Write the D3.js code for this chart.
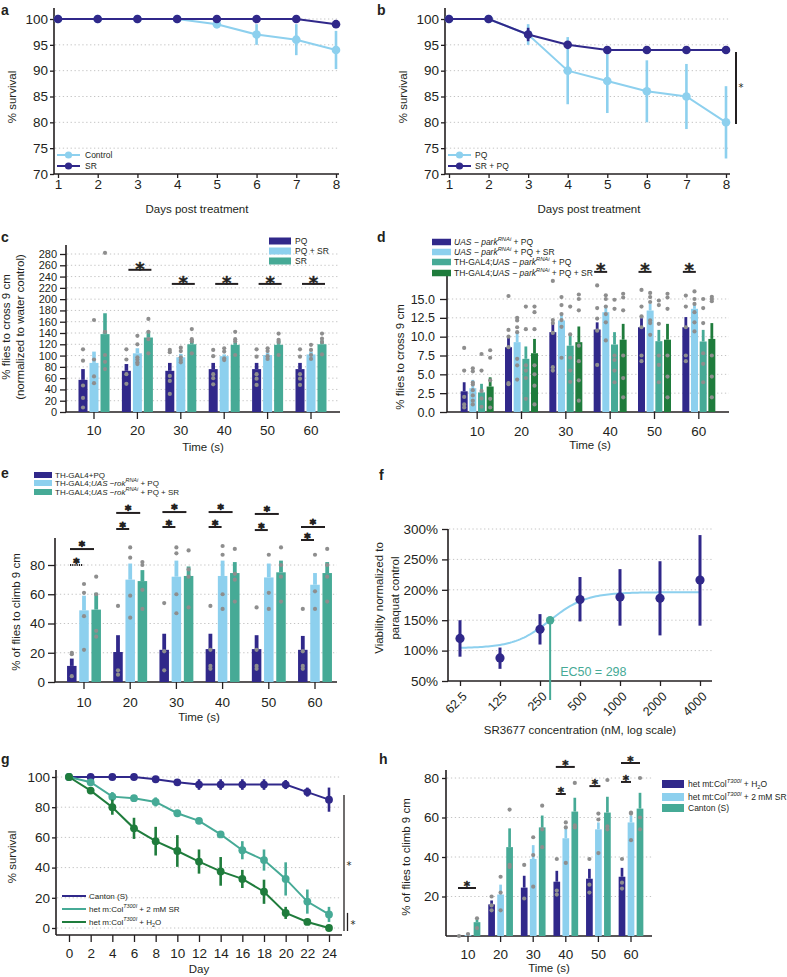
<!DOCTYPE html>
<html>
<head>
<meta charset="utf-8">
<title>SR3677 panels</title>
<script src="https://d3js.org/d3.v7.min.js"></script>
<style>
  body { margin: 0; background: #fff; }
</style>
</head>
<body>
<script>
const FONT = '"Liberation Sans", Arial, Helvetica, sans-serif'
const STAR_FONT = '"DejaVu Sans", sans-serif'
const INK = "#231f20", GRID = "#c4c4c4", DOT = "#8e8e8e"
const NAVY = "#30288a", SKY = "#8dd0ee", TEAL = "#46aa96", GREEN = "#1f7c3c"

// ---- panel a / b : survival, days 1-8
const daysAB = [1, 2, 3, 4, 5, 6, 7, 8]
const aControl = [100, 100, 100, 100, 99, 97, 96, 94]
const aControlErr = [0, 0, 0, 0, 0.8, 2, 3, 3.7]
const aSR = [100, 100, 100, 100, 100, 100, 100, 99]
const aSRErr = [0, 0, 0, 0, 0, 0, 0, 0.7]
const bPQ = [100, 100, 97, 90, 88, 86, 85, 80]
const bPQErr = [0, 0, 2, 6.5, 6.2, 6, 6.3, 7]
const bSRPQ = [100, 100, 97, 95, 94, 94, 94, 94]
const bSRPQErr = [0, 0, 1.3, 0.6, 0.6, 0.6, 0.6, 0.7]
const survTicks = [70, 75, 80, 85, 90, 95, 100]

// ---- bar panels share the time categories
const timeCats = [10, 20, 30, 40, 50, 60]

// panel c
const cLabels = ["PQ", "PQ + SR", "SR"]
const cPQ = [57, 73, 73, 76, 76, 76]
const cPQErr = [19, 12, 14, 11, 11, 11]
const cPQSR = [87, 104, 97, 99, 101, 102]
const cPQSRErr = [20, 9, 6, 3, 4, 5]
const cSR = [138, 132, 120, 119, 119, 120]
const cSRErr = [37, 11, 7, 4, 8, 7]
const cPQDots = [[111, 91, 47, 25, 8], [111, 93, 67, 50], [110, 106, 64, 55, 32], [110, 99, 67, 60, 49], [111, 98, 67, 59, 48], [111, 98, 67, 59, 48]]
const cPQSRDots = [[163, 93, 63, 51], [135, 120, 97, 93, 88, 85], [114, 108, 97, 92, 88], [113, 107, 95, 92], [113, 108, 99, 94], [119, 110, 101, 94]]
const cSRDots = [[282, 142, 101, 89, 76], [165, 142, 129, 104], [147, 129, 125, 104], [142, 129, 125, 101], [139, 128, 124, 101], [139, 130, 124, 102]]
const cTicks = d3.range(0, 281, 20)
const cSigCats = [20, 30, 40, 50, 60]
const cSigLevels = [252, 227, 227, 227, 227]

// panel d
const dLabels = [
  [["UAS − park", "i"], ["RNAi", "^i"], [" + PQ"]],
  [["UAS − park", "i"], ["RNAi", "^i"], [" + PQ + SR"]],
  [["TH-GAL4;"], ["UAS − park", "i"], ["RNAi", "^i"], [" + PQ"]],
  [["TH-GAL4;"], ["UAS − park", "i"], ["RNAi", "^i"], [" + PQ + SR"]]
]
const dUasPQ = [2.75, 8.6, 10.6, 10.95, 11.25, 11.25]
const dUasPQErr = [1.2, 1.55, 1.2, 0.95, 1.2, 1.35]
const dUasPQSR = [3.16, 9.27, 12.15, 13.25, 13.47, 13.7]
const dUasPQSRErr = [1.1, 1.35, 0.85, 0.75, 0.9, 0.65]
const dThPQ = [2.6, 7.06, 8.8, 8.96, 9.4, 9.36]
const dThPQErr = [1.14, 1.64, 1.5, 1.64, 1.5, 1.54]
const dThPQSR = [3.38, 7.8, 9.27, 9.6, 9.6, 9.7]
const dThPQSRErr = [1.22, 1.9, 2.08, 2.1, 2.1, 2.1]
const dUasPQDots = [[8.5, 5.5, 2.0, 1.0, 0.6], [15.4, 10.9, 10.0, 8.6, 3.85, 3.7], [17.4, 12.2, 11.8, 10.5, 5.95, 5.5], [16.8, 13.8, 12.4, 10.8, 6.25], [16.2, 14.0, 12.7, 11.25, 7.5, 6.75], [15.45, 14.0, 11.25, 7.5, 6.75]]
const dUasPQSRDots = [[5.8, 5.4, 3.9, 3.65, 2.9, 2.2, 1.5, 1.0], [12.5, 12.15, 11.25, 10.6, 7.06, 6.2, 4.3], [15.25, 14.2, 13.0, 12.2, 11.3, 7.2], [15.5, 15.0, 14.0, 13.0, 11.9, 9.5], [15.8, 15.25, 14.6, 12.15, 11.8, 10.25], [16.0, 15.0, 14.35, 13.25, 11.9, 10.7]]
const dThPQDots = [[7.7, 5.5, 2.8, 1.8, 0.7], [14.0, 11.0, 6.2, 5.5, 4.5, 1.75], [14.0, 10.3, 7.2, 5.5, 4.0], [14.9, 13.7, 7.5, 6.9, 5.5, 3.95], [14.8, 14.2, 11.7, 7.5, 6.25, 3.95], [15.0, 13.8, 11.8, 7.8, 6.4, 3.95]]
const dThPQSRDots = [[8.2, 7.2, 4.2, 1.75, 0.6], [14.0, 13.25, 11.0, 6.2, 5.0, 3.5, 1.0], [15.6, 15.0, 13.5, 8.8, 6.75, 4.2, 1.5], [15.7, 15.2, 13.5, 7.5, 4.5, 1.95], [15.7, 15.2, 13.7, 7.5, 4.7, 1.95], [15.3, 15.0, 14.7, 7.5, 4.7, 1.95]]
const dTicks = [0, 2.5, 5, 7.5, 10, 12.5, 15]
const dSigCats = [40, 50, 60]
const dSigLevel = 18.6

// panel e
const eLabels = [
  [["TH-GAL4+PQ"]],
  [["TH-GAL4;"], ["UAS −rok", "i"], ["RNAi", "^i"], [" + PQ"]],
  [["TH-GAL4;"], ["UAS −rok", "i"], ["RNAi", "^i"], [" + PQ + SR"]]
]
const eTh = [11, 20.5, 22, 22.5, 22.5, 22]
const eThErr = [5, 11.5, 11, 10.5, 9.5, 9.5]
const eRok = [49, 70, 72, 72.5, 71.5, 66.5]
const eRokErr = [10, 11, 11, 10.5, 9.5, 8]
const eRokSR = [49.5, 69, 72.5, 74.5, 75, 74.5]
const eRokSRErr = [11.5, 7.5, 6.5, 7.5, 8, 7.5]
const eThDots = [[20, 19, 4], [52, 8, 5], [54, 21, 8], [52, 22, 11, 9], [51, 22, 11, 9], [50, 21, 11, 9]]
const eRokDots = [[67, 61, 45, 22], [92, 85, 59, 44], [92, 88, 60, 47], [93, 87, 60, 50], [87, 61, 50], [87, 62, 50]]
const eRokSRDots = [[72, 60, 35, 31], [82, 80, 63, 50], [90, 77, 72, 51], [91, 74, 70, 55], [92, 80, 72, 55], [91, 80, 72, 55]]
const eTicks = [0, 20, 40, 60, 80]
const eSigCats = [10, 20, 30, 40, 50, 60]
const eSigTop = [90.9, 115.6, 116.2, 116.2, 114.9, 106]
const eSigLow = [80, 104.6, 106, 106, 103.9, 97.1]

// panel f
const fConc = [62.5, 125, 250, 500, 1000, 2000, 4000]
const fMean = [120, 88, 135, 184, 188, 186, 216]
const fLow = [90, 70, 110, 148, 141, 125, 141]
const fHigh = [150, 105, 160, 221, 234, 247, 290]
const fFit = [104, 196, 298, 3.2]   // bottom, top, EC50, hill slope of the fitted curve
const fTicks = [50, 100, 150, 200, 250, 300]

// panel g
const gDays = [0, 2, 4, 6, 8, 10, 12, 14, 16, 18, 20, 22, 24]
const gCanton = [100, 100, 100, 100, 98.5, 96.5, 95, 95, 95, 95, 95, 90, 85]
const gCantonErr = [0, 0, 0, 0, 1, 1.5, 3.5, 3.5, 3.5, 3.5, 3, 3, 8]
const gSR = [100, 96.5, 87, 86, 83.5, 76, 71, 62, 51.5, 45, 32.5, 17.5, 9]
const gSRErr = [0, 1, 3, 1.5, 3, 1, 2, 2, 6, 7, 11, 8, 5]
const gH2O = [100, 91, 80, 66, 57.5, 51, 44, 37.5, 32.5, 24, 10, 4, 0]
const gH2OErr = [0, 1.5, 5, 7, 9.5, 10.5, 8, 9.5, 6, 8, 4, 0.5, 0]
const gTicks = [0, 20, 40, 60, 80, 100]
const gLabels = [
  [["Canton (S)"]],
  [["het m:Col"], ["T300I", "^i"], [" + 2 mM SR"]],
  [["het m:Col"], ["T300I", "^i"], [" + H"], ["2", "_"], ["O"]]
]

// panel h
const hLabels = [
  [["het mt:Col"], ["T300I", "^i"], [" + H"], ["2", "_"], ["O"]],
  [["het mt:Col"], ["T300I", "^i"], [" + 2 mM SR"]],
  [["Canton (S)"]]
]
const hH2O = [0, 16, 24.5, 27.5, 29, 30]
const hH2OErr = [0, 2, 6, 5.5, 5, 4.5]
const hSR = [0.5, 21, 39, 49.5, 54, 57.5]
const hSRErr = [0, 5, 7, 5, 3.5, 3.5]
const hCanton = [7, 45, 55, 63, 62.5, 64.5]
const hCantonErr = [1.5, 9.5, 6, 7, 8, 8]
const hH2ODots = [[0], [20, 15.5, 13], [36, 19], [39, 23, 21], [39, 26, 22], [39, 27, 24]]
const hSRDots = [[1], [30, 22, 13], [50, 41, 25], [57.5, 55, 37], [62, 59, 42], [62.5, 62, 48.5]]
const hCantonDots = [[9, 4], [64, 36, 35], [66, 54, 45], [77.5, 56, 55], [79, 55.5, 54], [80, 60, 54]]
const hTicks = [20, 40, 60, 80]

// ------------------------------------------------------------------
const svg = d3.select("body").append("svg").attr("width", 787).attr("height", 977)
  .attr("font-family", FONT)

function finish(g, fs) {
  g.attr("font-family", FONT).attr("font-size", fs)
  g.selectAll(".tick line").attr("stroke", INK).attr("stroke-width", 1.3)
  g.selectAll(".tick text").attr("fill", INK)
}

function yAx(sc, vals, ax, top, bot, o = {}) {
  const g = svg.append("g").attr("transform", `translate(${ax},0)`)
    .call(d3.axisLeft(sc).tickValues(vals).tickFormat(o.fmt || (d => d))
      .tickSize(o.size || 4).tickPadding(o.pad || 2))
  g.select(".domain").remove()
  g.append("line").attr("y1", top).attr("y2", bot).attr("stroke", INK).attr("stroke-width", 1.6)
  finish(g, o.fs || 13.5)
  return g
}

function xAx(sc, vals, ay, left, right, o = {}) {
  const a = d3.axisBottom(sc).tickSize(o.size || 4).tickPadding(o.pad || 1)
    .tickFormat(o.fmt || (d => d))
  if (vals) a.tickValues(vals)
  const g = svg.append("g").attr("transform", `translate(0,${ay})`).call(a)
  g.select(".domain").remove()
  g.append("line").attr("x1", left).attr("x2", right).attr("stroke", INK).attr("stroke-width", 1.6)
  finish(g, o.fs || 13.5)
  return g
}

function grid(sc, vals, x0, x1) {
  svg.append("g").selectAll("line").data(vals).join("line")
    .attr("x1", x0).attr("x2", x1).attr("y1", d => sc(d)).attr("y2", d => sc(d))
    .attr("stroke", GRID).attr("stroke-width", 1).attr("stroke-dasharray", "1.3,2.6")
}

function label(x, y, txt, o = {}) {
  const t = svg.append("text").attr("x", x).attr("y", y).text(txt)
    .attr("font-size", o.fs || 11.5).attr("fill", o.fill || INK)
    .attr("text-anchor", o.anchor || "middle").attr("dominant-baseline", "central")
  if (o.rot) t.attr("transform", `rotate(-90,${x},${y})`)
  if (o.bold) t.attr("font-weight", "bold")
  return t
}

function rich(t, parts) {
  parts.forEach(p => {
    const s = t.append("tspan").text(p[0])
    const f = p[1] || ""
    if (f.includes("i")) s.attr("font-style", "italic")
    if (f.includes("^")) s.attr("baseline-shift", "super").attr("font-size", "68%")
    if (f.includes("_")) s.attr("baseline-shift", "sub").attr("font-size", "68%")
  })
}

// asterisk at visual centre (x, y); DejaVu has a large glyph for its line box
function star(x, y, fs, bold, thick) {
  svg.append("text").attr("x", x).attr("y", y + fs * 0.555).text("*")
    .attr("font-family", STAR_FONT).attr("font-size", fs).attr("text-anchor", "middle")
    .attr("fill", INK).attr("font-weight", bold ? "bold" : "normal")
    .attr("stroke", thick ? INK : null).attr("stroke-width", thick || null)
    .attr("stroke-linejoin", "round")
}

function survival(x, y, xs, vals, errs, color, r, lw) {
  const g = svg.append("g")
  g.append("path").datum(vals).attr("fill", "none").attr("stroke", color).attr("stroke-width", lw)
    .attr("d", d3.line().x((d, i) => x(xs[i])).y(d => y(d)))
  g.selectAll(".err").data(vals).join("line").attr("class", "err")
    .attr("x1", (d, i) => x(xs[i])).attr("x2", (d, i) => x(xs[i]))
    .attr("y1", (d, i) => y(d - errs[i])).attr("y2", (d, i) => y(d + errs[i]))
    .attr("stroke", color).attr("stroke-width", lw + 0.6)
  g.selectAll(".pt").data(vals).join("circle").attr("class", "pt")
    .attr("cx", (d, i) => x(xs[i])).attr("cy", d => y(d)).attr("r", r).attr("fill", color)
}

function barSeries(x, y, vals, errs, dots, color, off, bw) {
  const g = svg.append("g")
  const cx = i => x(timeCats[i]) + x.bandwidth() / 2 + off
  const ew = bw * 0.4
  g.selectAll(".bar").data(vals).join("rect").attr("class", "bar")
    .attr("x", (d, i) => cx(i) - bw / 2).attr("width", bw)
    .attr("y", d => y(d)).attr("height", d => y(0) - y(d)).attr("fill", color)
  g.selectAll(".eb").data(vals).join("rect").attr("class", "eb")
    .attr("x", (d, i) => cx(i) - ew / 2).attr("width", ew)
    .attr("y", (d, i) => y(d + errs[i])).attr("height", (d, i) => y(d) - y(d + errs[i])).attr("fill", color)
  if (dots) {
    const pts = dots.flatMap((arr, i) => arr.map(v => [i, v]))
    g.selectAll(".dot").data(pts).join("circle").attr("class", "dot")
      .attr("cx", d => cx(d[0])).attr("cy", d => y(d[1])).attr("r", 2.1).attr("fill", DOT)
  }
}

// horizontal significance line; returns its midpoint
function sigLine(x, y, cat, level, offA, offB, dashed) {
  const c = x(cat) + x.bandwidth() / 2
  const yy = y(level)
  svg.append("line").attr("x1", c + offA).attr("x2", c + offB).attr("y1", yy).attr("y2", yy)
    .attr("stroke", INK).attr("stroke-width", 2).attr("stroke-dasharray", dashed ? "1.2,1" : null)
  return [c + (offA + offB) / 2, yy]
}

function swatches(items, colors, x, ys, w, h, fs, tx) {
  items.forEach((parts, i) => {
    svg.append("rect").attr("x", x).attr("y", ys[i] - h / 2).attr("width", w).attr("height", h).attr("fill", colors[i])
    const t = svg.append("text").attr("x", tx).attr("y", ys[i]).attr("dominant-baseline", "central")
      .attr("font-size", fs).attr("fill", INK)
    rich(t, parts)
  })
}

function lineKey(items, colors, x0, x1, ys, fs, tx, marker) {
  items.forEach((parts, i) => {
    svg.append("line").attr("x1", x0).attr("x2", x1).attr("y1", ys[i]).attr("y2", ys[i])
      .attr("stroke", colors[i]).attr("stroke-width", 2)
    if (marker) svg.append("circle").attr("cx", (x0 + x1) / 2).attr("cy", ys[i]).attr("r", marker).attr("fill", colors[i])
    const t = svg.append("text").attr("x", tx).attr("y", ys[i]).attr("dominant-baseline", "central")
      .attr("font-size", fs).attr("fill", INK)
    rich(t, parts)
  })
}

// panel letters
;[["a", 1, 10], ["b", 377, 10], ["c", 1, 237], ["d", 377, 237], ["e", 1, 473], ["f", 379, 475], ["g", 1, 759], ["h", 379, 759]]
  .forEach(p => label(p[1], p[2], p[0], { fs: 14, bold: true, anchor: "start" }))

// ================= a =================
{
  const x = d3.scaleLinear().domain([1, 8]).range([58, 336])
  const y = d3.scaleLinear().domain([70, 100]).range([174, 19])
  grid(y, survTicks.slice(1), 55, 338)
  yAx(y, survTicks, 54, 8, 174, { size: 4, pad: 2 })
  xAx(x, daysAB, 174, 54, 339, { size: 4, pad: 1 })
  survival(x, y, daysAB, aControl, aControlErr, SKY, 4.3, 2)
  survival(x, y, daysAB, aSR, aSRErr, NAVY, 4.3, 2)
  lineKey([[["Control"]], [["SR"]]], [SKY, NAVY], 57, 80, [155, 166], 8.5, 85, 3.6)
  label(12, 97, "% survival", { rot: true })
  label(197, 209, "Days post treatment")
}

// ================= b =================
{
  const x = d3.scaleLinear().domain([1, 8]).range([449, 726])
  const y = d3.scaleLinear().domain([70, 100]).range([174, 19])
  grid(y, survTicks.slice(1), 446, 729)
  yAx(y, survTicks, 445, 8, 174, { size: 4, pad: 2 })
  xAx(x, daysAB, 174, 445, 730, { size: 4, pad: 1 })
  survival(x, y, daysAB, bPQ, bPQErr, SKY, 4.3, 2)
  survival(x, y, daysAB, bSRPQ, bSRPQErr, NAVY, 4.3, 2)
  lineKey([[["PQ"]], [["SR + PQ"]]], [SKY, NAVY], 448, 471, [155, 166], 8.5, 475, 3.6)
  // significance between the day-8 values
  svg.append("line").attr("x1", x(8) + 10).attr("x2", x(8) + 10)
    .attr("y1", y(bSRPQ[7] - 0.4)).attr("y2", y(bPQ[7] - 0.3)).attr("stroke", INK).attr("stroke-width", 2)
  star(x(8) + 15, y((bSRPQ[7] + bPQ[7]) / 2) - 1, 10, false)
  label(403, 97, "% survival", { rot: true })
  label(589, 209, "Days post treatment")
}

// ================= c =================
{
  const x = d3.scaleBand().domain(timeCats).range([72.3, 332.7])
  const y = d3.scaleLinear().domain([0, 280]).range([412, 254])
  grid(y, cTicks.slice(1), 67, 340)
  yAx(y, cTicks, 66, 245, 412, { size: 6, pad: 3, fs: 11 })
  xAx(x, null, 412, 66, 340, { size: 7, pad: 6 })
  barSeries(x, y, cPQ, cPQErr, cPQDots, NAVY, -11, 9)
  barSeries(x, y, cPQSR, cPQSRErr, cPQSRDots, SKY, 0, 9)
  barSeries(x, y, cSR, cSRErr, cSRDots, TEAL, 11, 9)
  cSigCats.forEach((c, i) => {
    const m = sigLine(x, y, c, cSigLevels[i], -9, 14)
    star(m[0], m[1] - 5, 18, true, 0.4)
  })
  swatches(cLabels.map(s => [[s]]), [NAVY, SKY, TEAL], 269, [241, 251, 261], 22, 7, 8.5, 295)
  label(6, 327, "% flies to cross 9 cm", { rot: true })
  label(20, 327, "(normalized to water control)", { rot: true })
  label(203, 447, "Time (s)")
}

// ================= d =================
{
  const x = d3.scaleBand().domain(timeCats).range([455, 721])
  const y = d3.scaleLinear().domain([0, 15]).range([412, 299])
  grid(y, dTicks.slice(1), 448, 729)
  yAx(y, dTicks, 447, 273, 412, { size: 7, pad: 5, fs: 12.5, fmt: d3.format(".1f") })
  xAx(x, null, 412, 447, 729, { size: 7, pad: 7 })
  barSeries(x, y, dUasPQ, dUasPQErr, dUasPQDots, NAVY, -13, 7)
  barSeries(x, y, dUasPQSR, dUasPQSRErr, dUasPQSRDots, SKY, -4.35, 7)
  barSeries(x, y, dThPQ, dThPQErr, dThPQDots, TEAL, 4.35, 7)
  barSeries(x, y, dThPQSR, dThPQSRErr, dThPQSRDots, GREEN, 13, 7)
  dSigCats.forEach(c => {
    const m = sigLine(x, y, c, dSigLevel, -16, -3)
    star(m[0], m[1] - 6, 18, true, 0.4)
  })
  swatches(dLabels, [NAVY, SKY, TEAL, GREEN], 432, [242, 252, 262, 273], 19, 6.5, 8.5, 454)
  label(400, 357, "% flies to cross 9 cm", { rot: true })
  label(590, 445, "Time (s)")
}

// ================= e =================
{
  const x = d3.scaleBand().domain(timeCats).range([60.9, 338.1])
  const y = d3.scaleLinear().domain([0, 80]).range([682, 565])
  grid(y, eTicks.slice(1), 56, 337)
  yAx(y, eTicks, 55, 538, 682, { size: 7, pad: 3 })
  xAx(x, null, 682, 55, 337, { size: 7, pad: 8 })
  barSeries(x, y, eTh, eThErr, eThDots, NAVY, -12.2, 9.5)
  barSeries(x, y, eRok, eRokErr, eRokDots, SKY, 0, 9.5)
  barSeries(x, y, eRokSR, eRokSRErr, eRokSRDots, TEAL, 12.2, 9.5)
  eSigCats.forEach((c, i) => {
    const top = sigLine(x, y, c, eSigTop[i], -14, 10)
    const low = sigLine(x, y, c, eSigLow[i], -14, -1, i === 0)
    star(top[0], top[1] - 5.5, 12, true, 0.9)
    star(low[0], low[1] - 4.5, 12, true, 0.9)
  })
  swatches(eLabels, [NAVY, SKY, TEAL], 34, [475, 483, 492], 18, 6, 8, 55)
  label(16, 612, "% of flies to climb 9 cm", { rot: true })
  label(199, 717, "Time (s)")
}

// ================= f =================
{
  const x = d3.scaleLog().base(2).domain([62.5, 4000]).range([460, 700])
  const y = d3.scaleLinear().domain([50, 300]).range([681, 529])
  grid(y, fTicks.slice(1), 449, 712)
  yAx(y, fTicks, 448, 529, 681, { size: 6, pad: 4, fmt: d => d + "%" })
  const gx = xAx(x, fConc, 681, 448, 712, { size: 5, pad: 1, fs: 12.5 })
  gx.selectAll(".tick text").attr("y", 0).attr("dy", "0.35em").attr("text-anchor", "end")
    .attr("transform", "translate(4,13) rotate(-45)")
  const [bot, top, ec50, hill] = fFit
  const fit = c => bot + (top - bot) / (1 + Math.pow(ec50 / c, hill))
  const xs = d3.range(0, 121).map(i => 62.5 * Math.pow(64, i / 120))
  svg.append("path").datum(xs).attr("fill", "none").attr("stroke", SKY).attr("stroke-width", 2)
    .attr("d", d3.line().x(c => x(c)).y(c => y(fit(c))))
  svg.append("g").selectAll("line").data(fMean).join("line")
    .attr("x1", (d, i) => x(fConc[i])).attr("x2", (d, i) => x(fConc[i]))
    .attr("y1", (d, i) => y(fLow[i])).attr("y2", (d, i) => y(fHigh[i]))
    .attr("stroke", NAVY).attr("stroke-width", 3)
  svg.append("g").selectAll("circle").data(fMean).join("circle")
    .attr("cx", (d, i) => x(fConc[i])).attr("cy", d => y(d)).attr("r", 4.6).attr("fill", NAVY)
  svg.append("line").attr("x1", x(ec50)).attr("x2", x(ec50)).attr("y1", y(fit(ec50))).attr("y2", 700)
    .attr("stroke", TEAL).attr("stroke-width", 2)
  svg.append("circle").attr("cx", x(ec50)).attr("cy", y(fit(ec50))).attr("r", 4.2).attr("fill", TEAL)
  label(x(ec50) + 10, 672, "EC50 = " + ec50, { anchor: "start", fill: TEAL, fs: 12.5 })
  label(379, 598, "Viability normalized to", { rot: true })
  label(395, 598, "paraquat control", { rot: true })
  label(580, 730, "SR3677 concentration (nM, log scale)")
}

// ================= g =================
{
  const x = d3.scaleLinear().domain([0, 24]).range([69, 329])
  const y = d3.scaleLinear().domain([0, 100]).range([928, 777])
  grid(y, gTicks, 57, 341)
  yAx(y, gTicks, 56, 770, 935, { size: 4, pad: 2 })
  xAx(x, gDays, 935, 56, 342, { size: 7, pad: 6 })
  survival(x, y, gDays, gCanton, gCantonErr, NAVY, 3.9, 2)
  survival(x, y, gDays, gSR, gSRErr, TEAL, 3.9, 2)
  survival(x, y, gDays, gH2O, gH2OErr, GREEN, 3.9, 2)
  // significance: Canton vs mutant groups, SR vs water
  svg.append("line").attr("x1", 344).attr("x2", 344).attr("y1", y(88)).attr("y2", y(-2))
    .attr("stroke", INK).attr("stroke-width", 1.3)
  svg.append("line").attr("x1", 347.5).attr("x2", 347.5).attr("y1", y(10)).attr("y2", y(-2))
    .attr("stroke", INK).attr("stroke-width", 1.3)
  star(349, y(43), 10, false)
  star(353, y(4), 10, false)
  lineKey(gLabels, [NAVY, TEAL, GREEN], 62, 86, [896, 909, 922], 8, 89, 0)
  label(12, 857, "% survival", { rot: true })
  label(199, 969, "Day")
}

// ================= h =================
{
  const x = d3.scaleBand().domain(timeCats).range([451.7, 647.3])
  const y = d3.scaleLinear().domain([0, 80]).range([936, 778])
  grid(y, hTicks, 447, 652)
  yAx(y, hTicks, 446, 770, 936, { size: 4, pad: 3 })
  xAx(x, null, 936, 446, 652, { size: 6, pad: 7 })
  barSeries(x, y, hH2O, hH2OErr, hH2ODots, NAVY, -9, 6.7)
  barSeries(x, y, hSR, hSRErr, hSRDots, SKY, 0, 6.7)
  barSeries(x, y, hCanton, hCantonErr, hCantonDots, TEAL, 9, 6.7)
  const s10 = sigLine(x, y, 10, 24.3, -10, 8)
  const s40a = sigLine(x, y, 40, 85.6, -10, 9)
  const s40b = sigLine(x, y, 40, 71.9, -10, 0)
  const s50 = sigLine(x, y, 50, 75.9, -9, 2)
  const s60a = sigLine(x, y, 60, 87.6, -10, 9)
  const s60b = sigLine(x, y, 60, 78, -10, 0)
  ;[s10, s40a, s40b, s50, s60a, s60b].forEach(m => star(m[0], m[1] - 4.5, 12, true, 0.5))
  swatches(hLabels, [NAVY, SKY, TEAL], 662, [784, 797, 808], 22, 8, 8.5, 688)
  label(406, 857, "% of flies to climb 9 cm", { rot: true })
  label(549, 968, "Time (s)")
}
</script>
</body>
</html>
